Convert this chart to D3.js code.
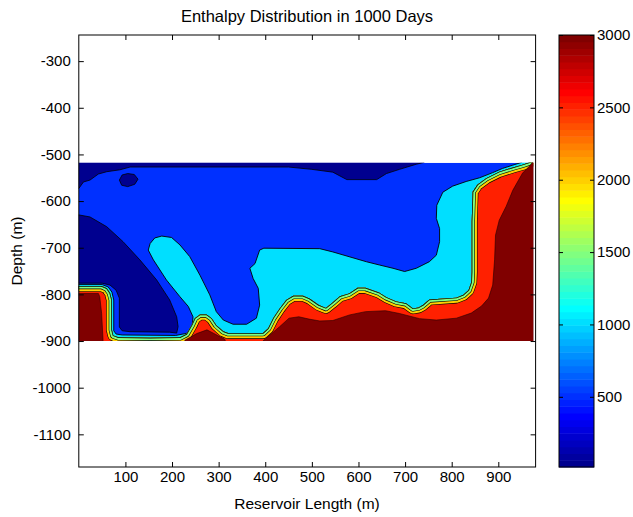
<!DOCTYPE html>
<html>
<head>
<meta charset="utf-8">
<script src="https://cdn.jsdelivr.net/npm/d3@7/dist/d3.min.js"></script>
<style>
body { margin: 0; background: #fff; }
svg text { font-family: "Liberation Sans", Arial, sans-serif; fill: #000; }
</style>
</head>
<body>
<svg id="chart" width="633" height="517"></svg>
<script>
// contour levels of the enthalpy field and the colour limits of the colormap
var levels = [500, 1000, 1500, 2000, 2500, 3000];
var colorLimits = [15, 3000];

var xTicks = [100, 200, 300, 400, 500, 600, 700, 800, 900];
var yTicks = [-300, -400, -500, -600, -700, -800, -900, -1000, -1100];
var colorTicks = [500, 1000, 1500, 2000, 2500, 3000];

// extent of the reservoir grid (m)
var reservoirX = [0, 975];
var reservoirDepth = [-900, -518];

// contour outlines, [length, depth] in metres
// regions below 500
var below500Top = [[-20,-480],[745,-480],[741,-517],[724,-521],[688,-532],[660,-541],[639,-554],[575,-554],
  [545,-538],[500,-532],[450,-527],[260,-527],[110,-527],[88,-533],[60,-537],[42,-542],[24,-555],[10,-559],
  [0,-573],[-20,-573]];
var below500Spot = [[87,-555],[93,-544],[105,-541],[119,-543],[127,-553],[120,-564],[105,-569],[92,-566]];
var below500Left = [[-20,-626],[24,-634],[60,-655],[95,-687],[131,-726],[167,-769],[195,-812],[210,-848],
  [213,-869],[210,-883],[195,-881],[110,-880],[93,-878],[87,-870],[87,-808],[80,-791],[67,-780],[50,-776],[-20,-776]];

// region above 1000
var above1000 = [[-20,-779],[50,-779],[63,-784],[71,-795],[75,-812],[75,-878],[80,-885],[93,-887],[208,-888],
  [234,-883],[243,-872],[245,-848],[235,-826],[217,-805],[188,-769],[160,-726],[149,-705],[153,-691],[163,-679],
  [178,-675],[199,-678],[217,-694],[238,-719],[260,-759],[281,-801],[295,-837],[310,-855],[331,-864],[360,-864],
  [381,-851],[388,-823],[385,-787],[374,-766],[367,-744],[378,-734],[388,-705],[397,-701],[517,-702],[545,-709],
  [617,-730],[645,-737],[674,-744],[699,-751],[724,-744],[752,-730],[767,-716],[774,-687],[774,-659],[767,-637],
  [768,-609],[781,-581],[802,-568],[831,-558],[860,-550],[888,-539],[909,-530],[931,-523],[950,-517],[950,-480],
  [1000,-480],[1000,-940],[-20,-940]];

// region above 1500 (front of the hot zone)
var above1500 = [[-20,-782],[49,-782],[60,-787],[67,-797],[71,-812],[71,-876],[74,-888],[85,-892],[153,-893],
  [217,-892],[231,-885],[242,-866],[249,-851],[260,-843],[274,-843],[285,-851],[295,-866],[310,-879],[320,-883],
  [395,-883],[406,-873],[417,-851],[431,-830],[445,-812],[460,-803],[481,-803],[495,-809],[515,-823],[530,-829],
  [544,-818],[560,-804],[580,-798],[598,-786],[615,-786],[644,-796],[660,-806],[681,-815],[702,-819],[717,-830],
  [729,-828],[738,-823],[752,-811],[810,-807],[825,-801],[836,-791],[842,-774],[843,-752],[843,-644],[845,-580],
  [855,-565],[874,-551],[888,-544],[902,-537],[931,-528],[952,-522],[967,-517],[988,-480],[1000,-480],
  [1000,-940],[-20,-940]];

// regions above 3000
var above3000Left = [[-20,-798],[42,-798],[45,-805],[49,-841],[52,-898],[52,-940],[-20,-940]];
var above3000Mid = [[215,-940],[228,-898],[253,-884],[275,-876],[292,-885],[313,-896],[330,-940]];
var above3000Right = [[378,-940],[395,-900],[408,-889],[430,-870],[451,-851],[472,-848],[494,-853],[517,-857],
  [545,-856],[581,-844],[615,-837],[658,-835],[688,-841],[731,-852],[767,-855],[810,-851],[842,-840],[864,-825],
  [879,-808],[888,-780],[892,-726],[894,-673],[902,-641],[917,-611],[931,-577],[952,-540],[967,-525],[977,-512],
  [1000,-480],[1000,-940]];

var svg = d3.select("#chart");

var x = d3.scaleLinear().domain([0, 980]).range([78.8, 535.6]);
var y = d3.scaleLinear().domain([-1170, -244]).range([467, 35]);
var cbar = d3.scaleLinear().domain(colorLimits).range([467, 35]);

// MATLAB jet(64)
function jet(i) {
  var e = i + 1;
  function u(k) {
    if (k < 1 || k > 47) return 0;
    if (k <= 16) return k / 16;
    if (k <= 31) return 1;
    return (48 - k) / 16;
  }
  return d3.rgb(255 * u(e - 24), 255 * u(e - 8), 255 * u(e + 8)).formatHex();
}
function colorOf(v) {
  var i = Math.floor((v - colorLimits[0]) / (colorLimits[1] - colorLimits[0]) * 64);
  return jet(Math.max(0, Math.min(63, i)));
}

var line = d3.line().x(function (d) { return x(d[0]); }).y(function (d) { return y(d[1]); });
function outline(pts) { return line(pts) + "Z"; }
function plain(d) { return String(d); }

var defs = svg.append("defs");
defs.append("clipPath").attr("id", "field")
  .append("rect")
  .attr("x", x(reservoirX[0])).attr("y", y(reservoirDepth[1]))
  .attr("width", x(reservoirX[1]) - x(reservoirX[0]))
  .attr("height", y(reservoirDepth[0]) - y(reservoirDepth[1]));
defs.append("clipPath").attr("id", "front")
  .append("path").attr("d", outline(above1500));

var field = svg.append("g").attr("clip-path", "url(#field)");

// 500-1000 band as background of the field
field.append("rect")
  .attr("x", x(reservoirX[0])).attr("y", y(reservoirDepth[1]))
  .attr("width", x(reservoirX[1]) - x(reservoirX[0]))
  .attr("height", y(reservoirDepth[0]) - y(reservoirDepth[1]))
  .attr("fill", colorOf(levels[0]));

field.selectAll("path.low")
  .data([below500Top, below500Spot, below500Left])
  .enter().append("path")
  .attr("class", "low")
  .attr("d", outline)
  .attr("fill", colorOf(colorLimits[0]))
  .attr("stroke", "#000").attr("stroke-width", 0.8);

field.append("path")
  .attr("d", outline(above1000))
  .attr("fill", colorOf(levels[1]))
  .attr("stroke", "#000").attr("stroke-width", 0.9);

field.append("path")
  .attr("d", outline(above1500))
  .attr("fill", colorOf(levels[4]));

// thin 1500-2000 and 2000-2500 bands along the front
var bands = field.append("g").attr("clip-path", "url(#front)");
[[11.6, "#000"], [10.4, colorOf(levels[3])], [6.4, "#000"], [5.2, colorOf(levels[2])], [1.4, "#000"]]
  .forEach(function (s) {
    bands.append("path")
      .attr("d", outline(above1500))
      .attr("fill", "none")
      .attr("stroke", s[1]).attr("stroke-width", s[0])
      .attr("stroke-linejoin", "round");
  });

field.selectAll("path.hot")
  .data([above3000Left, above3000Mid, above3000Right])
  .enter().append("path")
  .attr("class", "hot")
  .attr("d", outline)
  .attr("fill", colorOf(levels[5]))
  .attr("stroke", "#200").attr("stroke-width", 0.6);

// axes
var fs = "15px";
var gx = svg.append("g").attr("transform", "translate(0,467)")
  .call(d3.axisBottom(x).tickValues(xTicks).tickSizeInner(-5).tickSizeOuter(0).tickPadding(4).tickFormat(plain));
var gxt = svg.append("g").attr("transform", "translate(0,35)")
  .call(d3.axisTop(x).tickValues(xTicks).tickSizeInner(-5).tickSizeOuter(0).tickFormat(""));
var gy = svg.append("g").attr("transform", "translate(78.8,0)")
  .call(d3.axisLeft(y).tickValues(yTicks).tickSizeInner(-5).tickSizeOuter(0).tickPadding(8).tickFormat(plain));
var gyr = svg.append("g").attr("transform", "translate(535.6,0)")
  .call(d3.axisRight(y).tickValues(yTicks).tickSizeInner(-5).tickSizeOuter(0).tickFormat(""));
[gx, gxt, gy, gyr].forEach(function (g) {
  g.select(".domain").remove();
  g.selectAll("line").attr("stroke", "#000");
  g.selectAll("text").style("font-size", fs).attr("font-family", null);
});

svg.append("rect")
  .attr("x", 78.8).attr("y", 35).attr("width", 535.6 - 78.8).attr("height", 432)
  .attr("fill", "none").attr("stroke", "#000").attr("stroke-width", 1);

svg.append("text").attr("x", 307).attr("y", 22).attr("text-anchor", "middle")
  .style("font-size", "16.5px").text("Enthalpy Distribution in 1000 Days");
svg.append("text").attr("x", 307).attr("y", 509).attr("text-anchor", "middle")
  .style("font-size", "15.5px").text("Reservoir Length (m)");
svg.append("text").attr("transform", "translate(22,251) rotate(-90)").attr("text-anchor", "middle")
  .style("font-size", "15.5px").text("Depth (m)");

// colorbar
var cbX0 = 559, cbX1 = 594;
var steps = d3.range(64);
var dv = (colorLimits[1] - colorLimits[0]) / 64;
svg.append("g").selectAll("rect")
  .data(steps).enter().append("rect")
  .attr("x", cbX0).attr("width", cbX1 - cbX0)
  .attr("y", function (i) { return cbar(colorLimits[0] + (i + 1) * dv); })
  .attr("height", function (i) { return cbar(colorLimits[0] + i * dv) - cbar(colorLimits[0] + (i + 1) * dv) + 0.5; })
  .attr("fill", function (i) { return jet(i); });
var gc = svg.append("g").attr("transform", "translate(" + cbX1 + ",0)")
  .call(d3.axisRight(cbar).tickValues(colorTicks).tickSizeInner(-4).tickSizeOuter(0).tickPadding(3).tickFormat(plain));
var gcl = svg.append("g").attr("transform", "translate(" + cbX0 + ",0)")
  .call(d3.axisLeft(cbar).tickValues(colorTicks).tickSizeInner(-4).tickSizeOuter(0).tickFormat(""));
[gc, gcl].forEach(function (g) {
  g.select(".domain").remove();
  g.selectAll("line").attr("stroke", "#000");
  g.selectAll("text").style("font-size", fs).attr("font-family", null);
});
svg.append("rect").attr("x", cbX0).attr("y", 35).attr("width", cbX1 - cbX0).attr("height", 432)
  .attr("fill", "none").attr("stroke", "#000").attr("stroke-width", 1);
</script>
</body>
</html>
